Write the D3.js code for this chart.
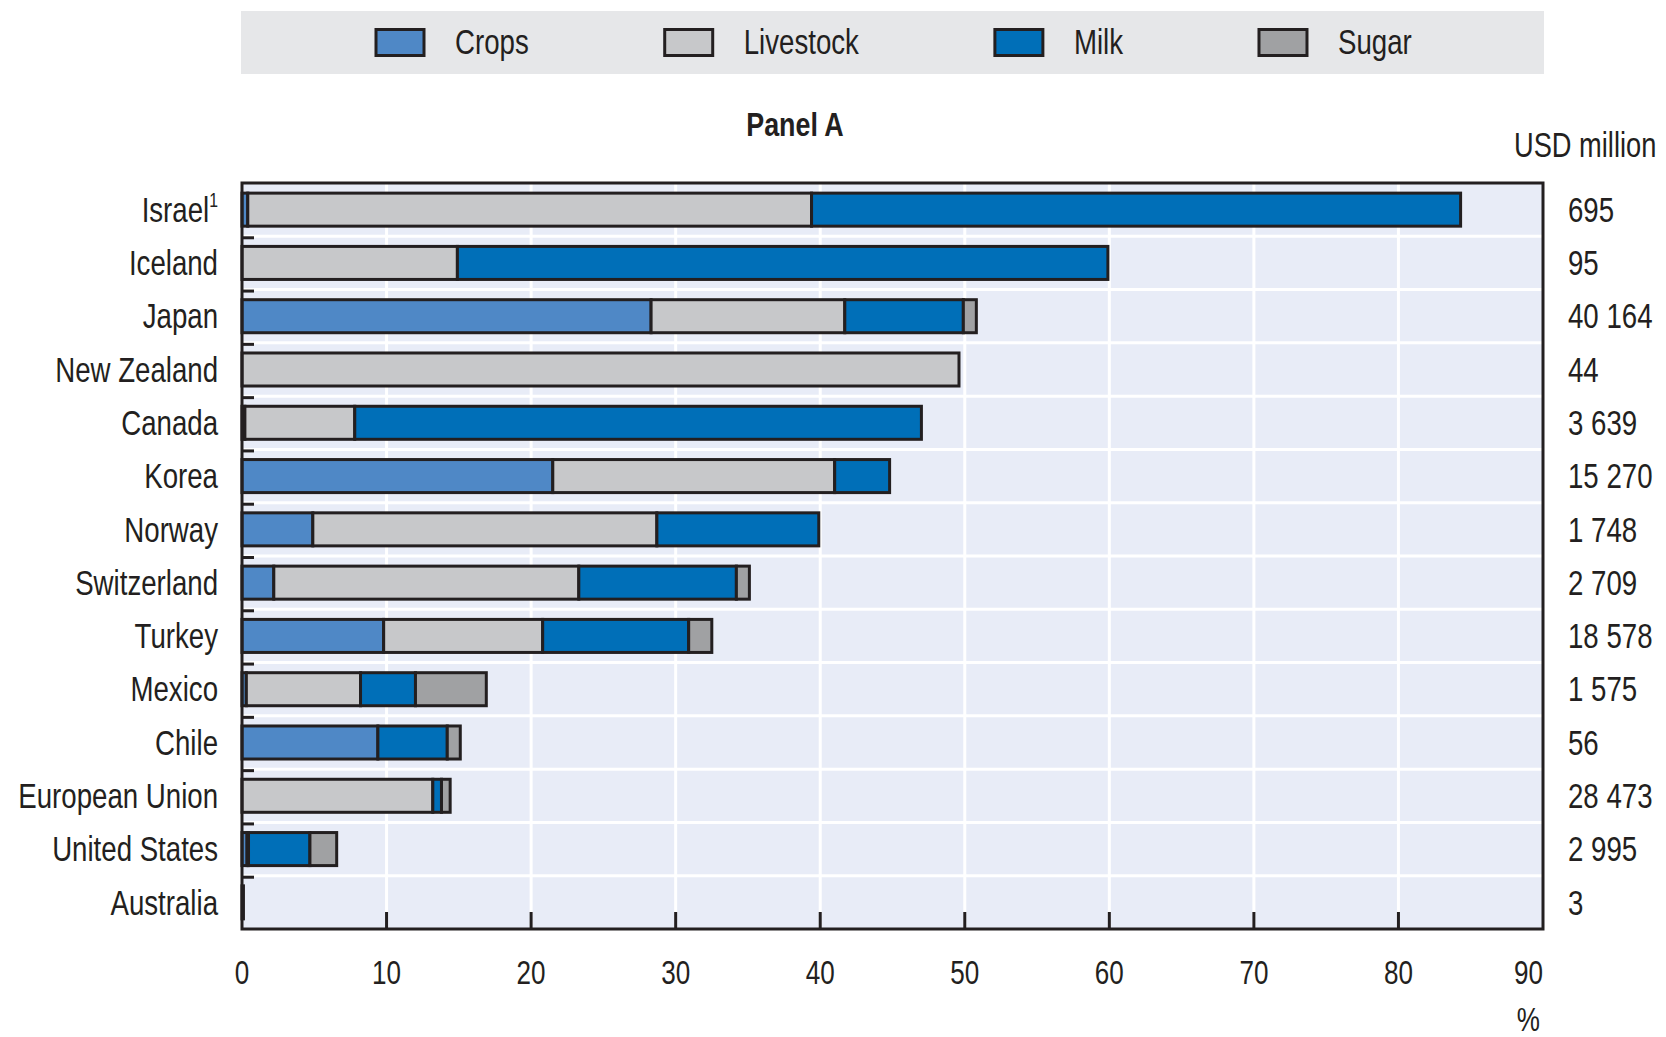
<!DOCTYPE html>
<html>
<head>
<meta charset="utf-8">
<script src="https://cdn.jsdelivr.net/npm/d3@7"></script>
<style>
  html, body { margin: 0; padding: 0; background: #ffffff; }
  svg { display: block; }
  text { font-family: "Liberation Sans", Arial, sans-serif; fill: #231F20; }
</style>
</head>
<body>
<svg id="chart" width="1666" height="1037"></svg>
<script>
// ---------------- data ----------------
const categories = ["Israel", "Iceland", "Japan", "New Zealand", "Canada", "Korea", "Norway",
  "Switzerland", "Turkey", "Mexico", "Chile", "European Union", "United States", "Australia"];
const footnotes = ["1", "", "", "", "", "", "", "", "", "", "", "", "", ""];
const seriesNames = ["Crops", "Livestock", "Milk", "Sugar"];
const crops     = [0.4, 0,    28.3, 0,    0.2,  21.5, 4.9,  2.2,  9.8,  0.3, 9.4, 0,    0.35, 0.1];
const livestock = [39.0, 14.9, 13.4, 49.6, 7.6, 19.5, 23.8, 21.1, 11.0, 7.9, 0,   13.2, 0.1,  0];
const milk      = [44.9, 45.0, 8.2,  0,    39.2, 3.8, 11.2, 10.9, 10.1, 3.8, 4.8, 0.6,  4.25, 0];
const sugar     = [0,    0,    0.9,  0,    0,    0,   0,    0.9,  1.6,  4.9, 0.9, 0.6,  1.85, 0];
const usdMillion = ["695", "95", "40 164", "44", "3 639", "15 270", "1 748", "2 709", "18 578",
  "1 575", "56", "28 473", "2 995", "3"];
const xTicks = [0, 10, 20, 30, 40, 50, 60, 70, 80, 90];
const panelTitle = "Panel A";
const unitLabel = "USD million";
const axisUnit = "%";

// ---------------- styles ----------------
const colors = { Crops: "#4F88C6", Livestock: "#C7C8CA", Milk: "#006FB8", Sugar: "#A0A1A3" };
const ink = "#231F20";
const plotBg = "#E8ECF7";
const SX = 0.79; // condensed look

const svg = d3.select("#chart");
const plot = { left: 242, right: 1543, top: 183, bottom: 929 };

const x = d3.scaleLinear().domain([0, 90]).range([plot.left, plot.right]);
const y = d3.scaleBand().domain(categories).range([plot.top, plot.bottom])
  .paddingInner(0.38).paddingOuter(0.19);

// condensed text helper
function ctext(sel, px, py) {
  return sel.attr("transform", `translate(${px},${py}) scale(${SX},1)`).attr("x", 0).attr("y", 0);
}

// build table
const table = categories.map((c, i) => ({
  country: c, Crops: crops[i], Livestock: livestock[i], Milk: milk[i], Sugar: sugar[i]
}));
const stacked = d3.stack().keys(seriesNames)(table);

// ---------------- legend ----------------
svg.append("rect").attr("x", 241).attr("y", 11).attr("width", 1303).attr("height", 63)
  .attr("fill", "#E6E7E9");
const lg = svg.append("g");
let lx = 376;
seriesNames.forEach(name => {
  lg.append("rect").attr("x", lx).attr("y", 29.5).attr("width", 48).attr("height", 26)
    .attr("fill", colors[name]).attr("stroke", ink).attr("stroke-width", 3);
  const t = ctext(lg.append("text"), lx + 79, 42).attr("dy", "0.35em")
    .attr("font-size", 35).text(name);
  lx = lx + 79 + t.node().getComputedTextLength() * SX + 136;
});

// ---------------- titles ----------------
ctext(svg.append("text"), 795, 124).attr("dy", "0.35em")
  .attr("text-anchor", "middle").attr("font-size", 34).attr("font-weight", "bold").text(panelTitle);
ctext(svg.append("text"), 1514, 145).attr("dy", "0.35em")
  .attr("font-size", 34.5).text(unitLabel);

// ---------------- plot area ----------------
svg.append("rect").attr("x", plot.left).attr("y", plot.top)
  .attr("width", plot.right - plot.left).attr("height", plot.bottom - plot.top).attr("fill", plotBg);

// vertical grid
svg.append("g").selectAll("line").data(xTicks.filter(d => d > 0 && d < 90)).join("line")
  .attr("x1", d => x(d)).attr("x2", d => x(d)).attr("y1", plot.top).attr("y2", plot.bottom)
  .attr("stroke", "#ffffff").attr("stroke-width", 3);

// horizontal grid at row boundaries
const step = y.step();
const boundaries = categories.slice(1).map((c, i) => plot.top + step * (i + 1));
svg.append("g").selectAll("line").data(boundaries).join("line")
  .attr("x1", plot.left).attr("x2", plot.right).attr("y1", d => d).attr("y2", d => d)
  .attr("stroke", "#ffffff").attr("stroke-width", 3);

// left ticks at boundaries
svg.append("g").selectAll("line").data(boundaries).join("line")
  .attr("x1", plot.left).attr("x2", plot.left + 12).attr("y1", d => d + 1.5).attr("y2", d => d + 1.5)
  .attr("stroke", ink).attr("stroke-width", 3);

// bottom ticks
svg.append("g").selectAll("line").data(xTicks.filter(d => d > 0 && d < 90)).join("line")
  .attr("x1", d => x(d)).attr("x2", d => x(d)).attr("y1", plot.bottom - 17).attr("y2", plot.bottom)
  .attr("stroke", ink).attr("stroke-width", 3);

// bars
const layers = svg.append("g").selectAll("g").data(stacked).join("g")
  .attr("fill", d => colors[d.key]);
layers.selectAll("rect").data(d => d.filter(s => s[1] - s[0] > 0)).join("rect")
  .attr("x", d => x(d[0]))
  .attr("width", d => Math.max(0.5, x(d[1]) - x(d[0])))
  .attr("y", d => y(d.data.country))
  .attr("height", y.bandwidth())
  .attr("stroke", ink).attr("stroke-width", 3);

// border
svg.append("rect").attr("x", plot.left).attr("y", plot.top)
  .attr("width", plot.right - plot.left).attr("height", plot.bottom - plot.top)
  .attr("fill", "none").attr("stroke", ink).attr("stroke-width", 3);

// category labels
svg.append("g").selectAll("text").data(categories).join("text")
  .each(function(d, i) {
    const t = ctext(d3.select(this), 218, y(d) + y.bandwidth() / 2)
      .attr("dy", "0.35em").attr("text-anchor", "end").attr("font-size", 35);
    t.append("tspan").text(d);
    if (footnotes[i]) t.append("tspan").attr("font-size", 20).attr("dy", "-0.75em").text(footnotes[i]);
  });

// right values
svg.append("g").selectAll("text").data(usdMillion).join("text")
  .each(function(d, i) {
    ctext(d3.select(this), 1568, y(categories[i]) + y.bandwidth() / 2)
      .attr("dy", "0.35em").attr("font-size", 35).text(d);
  });

// x tick labels
svg.append("g").selectAll("text").data(xTicks).join("text")
  .each(function(d) {
    ctext(d3.select(this), x(d), 972).attr("dy", "0.35em")
      .attr("text-anchor", d === 90 ? "end" : "middle")
      .attr("font-size", 33).text(d);
  });
ctext(svg.append("text"), 1540, 1019).attr("dy", "0.35em")
  .attr("text-anchor", "end").attr("font-size", 33).text(axisUnit);
</script>
</body>
</html>
